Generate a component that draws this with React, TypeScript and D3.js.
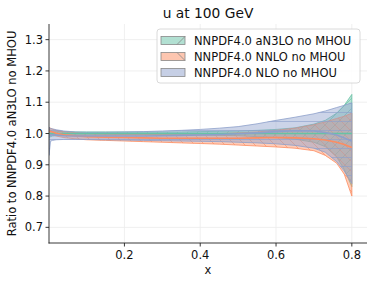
import React from 'react';
import * as d3 from 'd3';

// x grid and bands (ratio to aN3LO central)
const xs = [0.001, 0.005, 0.01, 0.02, 0.04, 0.07, 0.1, 0.15, 0.2, 0.25, 0.3, 0.35, 0.4, 0.45, 0.5, 0.55, 0.6, 0.65, 0.7, 0.73, 0.76, 0.78, 0.8];

const n3loMid = [1, 1, 1, 1, 1, 1, 1, 1, 1, 1, 1, 1, 1, 1, 1, 1, 1, 1, 1, 1, 1, 1, 1];
const n3loLow = [0.985, 0.99, 0.992, 0.993, 0.994, 0.995, 0.995, 0.995, 0.996, 0.996, 0.996, 0.996, 0.995, 0.994, 0.993, 0.99, 0.987, 0.982, 0.972, 0.958, 0.925, 0.885, 0.83];
const n3loHigh = [1.015, 1.01, 1.008, 1.007, 1.006, 1.005, 1.005, 1.005, 1.005, 1.005, 1.005, 1.005, 1.006, 1.007, 1.008, 1.01, 1.013, 1.018, 1.03, 1.042, 1.065, 1.09, 1.125];

const nnloMid = [1.006, 1.007, 1.005, 1.001, 0.996, 0.993, 0.99, 0.988, 0.987, 0.986, 0.985, 0.985, 0.985, 0.985, 0.985, 0.986, 0.987, 0.986, 0.983, 0.979, 0.972, 0.965, 0.955];
const nnloLow = [0.995, 0.997, 0.996, 0.992, 0.987, 0.983, 0.98, 0.978, 0.976, 0.974, 0.972, 0.97, 0.968, 0.966, 0.963, 0.96, 0.957, 0.953, 0.945, 0.93, 0.905, 0.87, 0.8];
const nnloHigh = [1.018, 1.017, 1.014, 1.01, 1.005, 1.003, 1.0, 0.998, 0.997, 0.997, 0.997, 0.998, 0.999, 1.0, 1.002, 1.005, 1.01, 1.017, 1.028, 1.037, 1.048, 1.055, 1.065];

const nloMid = [0.99, 0.995, 0.996, 0.995, 0.993, 0.992, 0.992, 0.992, 0.992, 0.992, 0.993, 0.994, 0.995, 0.997, 0.999, 1.002, 1.006, 1.009, 1.008, 1.003, 0.995, 0.986, 0.975];
const nloLow = [0.93, 0.975, 0.978, 0.98, 0.981, 0.981, 0.981, 0.98, 0.979, 0.978, 0.977, 0.976, 0.975, 0.974, 0.972, 0.97, 0.967, 0.962, 0.953, 0.94, 0.91, 0.88, 0.84];
const nloHigh = [1.02, 1.016, 1.015, 1.012, 1.008, 1.005, 1.004, 1.004, 1.005, 1.006, 1.008, 1.01, 1.013, 1.017, 1.022, 1.031, 1.042, 1.052, 1.063, 1.072, 1.083, 1.09, 1.098];

const labels = ['NNPDF4.0 aN3LO no MHOU', 'NNPDF4.0 NNLO no MHOU', 'NNPDF4.0 NLO no MHOU'];
const xTicks = [0.2, 0.4, 0.6, 0.8];
const yTicks = [0.7, 0.8, 0.9, 1.0, 1.1, 1.2, 1.3];

const colors = ['#66c2a5', '#fc8d62', '#8da0cb'];
const hatchIds = ['hatchFwd', 'hatchBack', 'hatchHoriz'];

const W = 374;
const H = 285;
const margin = { top: 24, right: 7, bottom: 42, left: 49 };
const font = 'DejaVu Sans, sans-serif';

const App: React.FC = () => {
  const x = d3.scaleLinear().domain([0.001, 0.84]).range([margin.left, W - margin.right]);
  const y = d3.scaleLinear().domain([0.65, 1.35]).range([H - margin.bottom, margin.top]);

  const series = [
    { mid: n3loMid, lo: n3loLow, hi: n3loHigh },
    { mid: nnloMid, lo: nnloLow, hi: nnloHigh },
    { mid: nloMid, lo: nloLow, hi: nloHigh },
  ];

  const area = (lo: number[], hi: number[]) =>
    d3.area<number>()
      .x((_, i) => x(xs[i]))
      .y0((_, i) => y(lo[i]))
      .y1((_, i) => y(hi[i]))(xs)!;
  const line = (v: number[]) =>
    d3.line<number>()
      .x((_, i) => x(xs[i]))
      .y((_, i) => y(v[i]))(xs)!;

  const x0 = margin.left;
  const x1 = W - margin.right;
  const y0 = H - margin.bottom;
  const y1 = margin.top;

  return (
    <svg width={W} height={H} style={{ position: 'absolute', left: 0, top: 0, background: '#fff' }} fontFamily={font}>
      <defs>
        <clipPath id="plotArea">
          <rect x={x0} y={y1} width={x1 - x0} height={y0 - y1} />
        </clipPath>
        <pattern id="hatchFwd" patternUnits="userSpaceOnUse" width={10} height={10}>
          <path d="M-1,1 l2,-2 M0,10 l10,-10 M9,11 l2,-2" stroke={colors[0]} strokeWidth={0.8} />
        </pattern>
        <pattern id="hatchBack" patternUnits="userSpaceOnUse" width={10} height={10}>
          <path d="M-1,9 l2,2 M0,0 l10,10 M9,-1 l2,2" stroke={colors[1]} strokeWidth={0.8} />
        </pattern>
        <pattern id="hatchHoriz" patternUnits="userSpaceOnUse" width={10} height={9}>
          <path d="M0,4.5 h10" stroke={colors[2]} strokeWidth={0.8} />
        </pattern>
      </defs>

      {/* grid */}
      <g stroke="#ebebeb" strokeWidth={0.8}>
        {xTicks.map(t => <line key={'gx' + t} x1={x(t)} x2={x(t)} y1={y0} y2={y1} />)}
        {yTicks.map(t => <line key={'gy' + t} x1={x0} x2={x1} y1={y(t)} y2={y(t)} />)}
      </g>

      {/* bands */}
      <g clipPath="url(#plotArea)">
        {series.map((s, i) => (
          <g key={'band' + i}>
            <path d={area(s.lo, s.hi)} fill={colors[i]} fillOpacity={0.45} stroke={colors[i]} strokeWidth={1} strokeOpacity={0.8} />
            <path d={area(s.lo, s.hi)} fill={`url(#${hatchIds[i]})`} stroke="none" opacity={0.8} />
          </g>
        ))}
        {series.map((s, i) => (
          <path key={'line' + i} d={line(s.mid)} fill="none" stroke={colors[i]} strokeWidth={1.6} />
        ))}
      </g>

      {/* axes */}
      <g stroke="#222" strokeWidth={0.9}>
        <line x1={x0} x2={x0} y1={y1} y2={y0 + 0.45} />
        <line x1={x0 - 0.45} x2={x1} y1={y0} y2={y0} />
        {xTicks.map(t => <line key={'tx' + t} x1={x(t)} x2={x(t)} y1={y0} y2={y0 + 3.5} />)}
        {yTicks.map(t => <line key={'ty' + t} x1={x0} x2={x0 - 3.5} y1={y(t)} y2={y(t)} />)}
      </g>
      <g fontSize={11.5} fill="#111">
        {xTicks.map(t => (
          <text key={'lx' + t} x={x(t)} y={y0 + 16} textAnchor="middle">{t.toFixed(1)}</text>
        ))}
        {yTicks.map(t => (
          <text key={'ly' + t} x={x0 - 6} y={y(t) + 4} textAnchor="end">{t.toFixed(1)}</text>
        ))}
      </g>

      <text x={(x0 + x1) / 2} y={274} fontSize={11.5} textAnchor="middle" fill="#111">x</text>
      <text transform={`translate(16,${(y0 + y1) / 2}) rotate(-90)`} fontSize={11.5} textAnchor="middle" fill="#111">
        Ratio to NNPDF4.0 aN3LO no MHOU
      </text>
      <text x={(x0 + x1) / 2} y={18} fontSize={13.8} textAnchor="middle" fill="#111">u at 100 GeV</text>

      {/* legend */}
      <g>
        <rect x={157} y={29} width={203} height={54} rx={3} fill="#fff" fillOpacity={0.85} stroke="#d0d0d0" strokeWidth={0.8} />
        {labels.map((lab, i) => {
          const cy = 40.5 + i * 16;
          return (
            <g key={lab}>
              <rect x={161} y={cy - 4} width={24} height={8} fill={colors[i]} fillOpacity={0.5} stroke="#888" strokeWidth={0.8} />
              {i === 0 && <line x1={177} y1={cy + 4} x2={185} y2={cy - 4} stroke="#888" strokeWidth={0.8} />}
              {i === 1 && <line x1={177} y1={cy - 4} x2={185} y2={cy + 4} stroke="#888" strokeWidth={0.8} />}
              <text x={194} y={cy + 4} fontSize={11.5} fill="#111">{lab}</text>
            </g>
          );
        })}
      </g>
    </svg>
  );
};

export default App;
